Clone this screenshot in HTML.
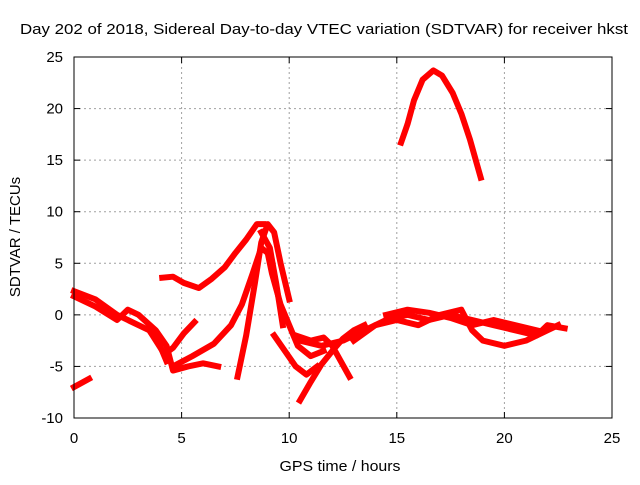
<!DOCTYPE html>
<html><head><meta charset="utf-8"><style>
body{margin:0;background:#fff;}
svg{font-family:"Liberation Sans",sans-serif;font-size:15px;}
</style></head><body>
<svg width="640" height="480" id="chart">
<text x="20" y="34" textLength="608" lengthAdjust="spacingAndGlyphs">Day 202 of 2018, Sidereal Day-to-day VTEC variation (SDTVAR) for receiver hkst</text>
<text x="340" y="471" text-anchor="middle" textLength="121" lengthAdjust="spacingAndGlyphs">GPS time / hours</text>
<text transform="translate(20,237) rotate(-90)" text-anchor="middle">SDTVAR / TECUs</text>
<g id="grid"></g><g id="series"></g>
<rect x="74" y="57" width="538" height="361" fill="none" stroke="#000"/>
<g id="ticks"></g>
</svg>
<script>
const xTicks=[0,5,10,15,20,25];
const yTicks=[-10,-5,0,5,10,15,20,25];
const s1=[[15.2,16.7],[15.5,18.5],[15.8,20.8],[16.2,22.8],[16.7,23.7],[17.1,23.2],[17.6,21.5],[18.0,19.5],[18.4,17],[18.9,13.3]];
const s2=[[0,2.3],[1,1.5],[2,0],[3,-1],[3.5,-1.5],[4,-3],[4.3,-4.5]];
const s3=[[0,1.8],[1,0.8],[2,-0.5],[2.5,0.5],[3,0],[3.8,-1.5],[4.3,-3],[4.6,-5.4],[5.3,-5],[6,-4.7],[6.7,-5]];
const s4=[[3.5,-1.5],[4.2,-3.8],[4.6,-3.2],[5.1,-1.8],[5.6,-0.7]];
const s5=[[4.6,-5],[5.5,-4],[6.5,-2.8],[7.3,-1],[7.8,1],[8.3,4],[8.7,6.5],[9.0,6],[9.2,4],[9.6,1],[10.0,-1],[10.4,-3],[11,-4],[11.6,-3.5]];
const s6=[[7.6,-6],[8.0,-2],[8.4,3],[8.7,7],[9.0,8.8],[9.3,8],[9.6,5],[10,1.5]];
const s7=[[4.1,3.6],[4.6,3.7],[5.1,3.1],[5.8,2.6],[6.4,3.5],[7,4.6],[7.5,6],[8,7.3],[8.5,8.8],[8.8,8.8]];
const s8=[[8.7,8],[9.1,6.5],[9.4,3],[9.7,-1]];
const s9=[[9.3,-2],[9.8,-3.5],[10.3,-5],[10.8,-5.8],[11.3,-5]];
const s10=[[10.5,-8.3],[11,-6.5],[11.5,-4.8],[12,-3.5],[12.5,-2.3],[13,-1.5],[13.5,-1]];
const s11=[[10.3,-2],[11,-2.5],[11.6,-2.2],[12,-3],[12.4,-4.5],[12.8,-6]];
const s12=[[10.5,-2.5],[11.5,-3],[12.5,-2.5],[13.5,-1.5],[14.5,-0.5],[15.5,0],[16.5,-0.5],[17.5,0],[18.5,-0.5],[19.5,-1],[20.5,-1.5],[21.5,-2],[22,-1],[22.8,-1.3]];
const s13=[[13,-2.5],[14,-1],[15,-0.5],[16,-1],[17,0],[18,0.5],[18.5,-1.5],[19,-2.5],[20,-3],[21,-2.5],[22,-1.5],[22.5,-1]];
const s14=[[14.5,0],[15.5,0.5],[16.5,0.2],[17.5,-0.3],[18.5,-1],[19.5,-0.5],[20.5,-1],[21.5,-1.5]];
const s15=[[0,-7],[0.7,-6.2]];
const allSeries=[s1,s2,s3,s4,s5,s6,s7,s8,s9,s10,s11,s12,s13,s14,s15];
const NS="http://www.w3.org/2000/svg";
const X=v=>74+(v-0)/25*538;
const Y=v=>418-(v+10)/35*361;
const grid=document.getElementById('grid'),ticks=document.getElementById('ticks'),ser=document.getElementById('series');
function mk(tag,attrs,parent){const e=document.createElementNS(NS,tag);for(const k in attrs)e.setAttribute(k,attrs[k]);parent.appendChild(e);return e;}
xTicks.forEach(t=>{
 if(t>0&&t<25){const g=mk('line',{x1:X(t),x2:X(t),y1:57,y2:418,stroke:'#a0a0a0','stroke-dasharray':'2,3'},grid);
 
 }
 mk('line',{x1:X(t),x2:X(t),y1:418,y2:412,stroke:'#000'},ticks);
 mk('line',{x1:X(t),x2:X(t),y1:57,y2:63,stroke:'#000'},ticks);
 const l=mk('text',{x:X(t),y:443,'text-anchor':'middle'},ticks);l.textContent=t;
 
 
});
yTicks.forEach(t=>{
 if(t>-10&&t<25){const g=mk('line',{x1:74,x2:612,y1:Y(t),y2:Y(t),stroke:'#a0a0a0','stroke-dasharray':'2,3'},grid);
 
 }
 mk('line',{x1:74,x2:80,y1:Y(t),y2:Y(t),stroke:'#000'},ticks);
 mk('line',{x1:612,x2:606,y1:Y(t),y2:Y(t),stroke:'#000'},ticks);
 const l=mk('text',{x:63,y:Y(t)+5,'text-anchor':'end'},ticks);l.textContent=t;
 
 
});
allSeries.forEach((s,i)=>{
 const p=mk('polyline',{points:s.map(d=>X(d[0])+','+Y(d[1])).join(' '),fill:'none',stroke:'#ff0000','stroke-width':6,'stroke-linejoin':'round','stroke-linecap':'square'},ser);
 
 
});
</script>
</body></html>
